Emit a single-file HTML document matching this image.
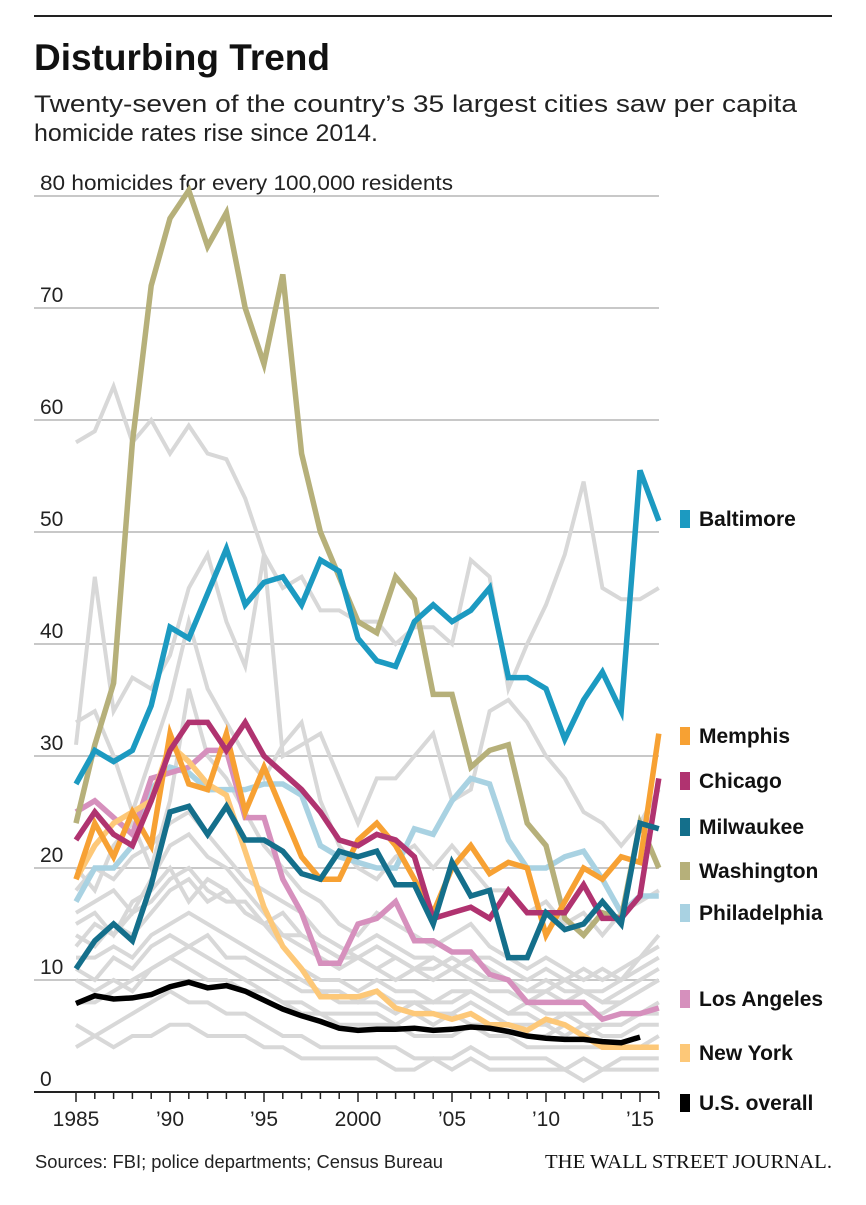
<!DOCTYPE html>
<html><head><meta charset="utf-8"><style>
body{margin:0;background:#fff;width:866px;height:1200px;overflow:hidden;font-family:"Liberation Sans",sans-serif}
</style></head><body>
<svg id="c" width="866" height="1200" xmlns="http://www.w3.org/2000/svg">
<line x1="34" y1="16" x2="832" y2="16" stroke="#222" stroke-width="2"/>
<text x="34" y="70" font-size="37" font-weight="bold" fill="#111" textLength="296" lengthAdjust="spacingAndGlyphs">Disturbing Trend</text>
<text x="34" y="112" font-size="24" fill="#222" textLength="763" lengthAdjust="spacingAndGlyphs">Twenty-seven of the country’s 35 largest cities saw per capita</text>
<text x="34" y="141" font-size="24" fill="#222" textLength="344" lengthAdjust="spacingAndGlyphs">homicide rates rise since 2014.</text>
<text x="35" y="1168" font-size="18" fill="#222" textLength="408" lengthAdjust="spacingAndGlyphs">Sources: FBI; police departments; Census Bureau</text>
<text x="832" y="1168" font-size="20" fill="#111" text-anchor="end" textLength="287" lengthAdjust="spacingAndGlyphs" font-family="Liberation Serif,serif">THE WALL STREET JOURNAL.</text>
<g id="grid"></g><g id="gray"></g><g id="main"></g><g id="axis"></g><g id="legend"></g>
</svg>
<script>
const years=[1985,1986,1987,1988,1989,1990,1991,1992,1993,1994,1995,1996,1997,1998,1999,2000,2001,2002,2003,2004,2005,2006,2007,2008,2009,2010,2011,2012,2013,2014,2015,2016];
const yTicks=[0,10,20,30,40,50,60,70];
const xTickLabels=["1985","’90","’95","2000","’05","’10","’15"];
const baltimore=[27.5,30.5,29.5,30.5,34.5,41.5,40.5,44.5,48.5,43.5,45.5,46,43.5,47.5,46.5,40.5,38.5,38,42,43.5,42,43,45,37,37,36,31.5,35,37.5,34,55.5,51];
const washington=[24,31,36.5,58,72,78,80.5,75.5,78.5,70,65,73,57,50,46,42,41,46,44,35.5,35.5,29,30.5,31,24,22,15.5,14,16,15.5,24,20];
const chicago=[22.5,25,23,22,26,30.5,33,33,30.5,33,30,28.5,27,25,22.5,22,23,22.5,21,15.5,16,16.5,15.5,18,16,16,16,18.5,15.5,15.5,17.5,28];
const memphis=[19,24,21,25,22,32,27.5,27,32,25,29,25,21,19,19,22.5,24,22,19,16,20,22,19.5,20.5,20,14,17,20,19,21,20.5,32];
const milwaukee=[11,13.5,15,13.5,18.5,25,25.5,23,25.5,22.5,22.5,21.5,19.5,19,21.5,21,21.5,18.5,18.5,15,20.5,17.5,18,12,12,16,14.5,15,17,15,24,23.5];
const philadelphia=[17,20,20,22,27,29,28.5,27,27,27,27.5,27.5,26.5,22,21,20.5,20,20,23.5,23,26,28,27.5,22.5,20,20,21,21.5,19,16,17.5,17.5];
const losAngeles=[25,26,24.5,23,28,28.5,29,30.5,30.5,24.5,24.5,19,16,11.5,11.5,15,15.5,17,13.5,13.5,12.5,12.5,10.5,10,8,8,8,8,6.5,7,7,7.5];
const newYork=[19,22,24,25,26,31,29.5,27.5,26.5,21.5,16.5,13,11,8.5,8.5,8.5,9,7.5,7,7,6.5,7,6,6,5.5,6.5,6,5,4,4,4,4];
const usOverall=[7.9,8.6,8.3,8.4,8.7,9.4,9.8,9.3,9.5,9,8.2,7.4,6.8,6.3,5.7,5.5,5.6,5.6,5.7,5.5,5.6,5.8,5.7,5.4,5,4.8,4.7,4.7,4.5,4.4,4.9];
const gray1=[58,59,63,58,60,57,59.5,57,56.5,53,48,45,46,43,43,42,42,40,41.5,41.5,40,47.5,46,36,40,43.5,48,54.5,45,44,44,45];
const gray2=[31,46,34,37,36,39,45,48,42,38,48,30,31,32,28,24,28,28,30,32,26,27,34,35,33,30,28,25,24,22,24,27];
const gray3=[33,34,30,25,30,35,42,36,33,30,28,31,33,26,22,20,19,21,22,20,22,20,18,18,16,17,15,16,14,16,17,18];
const gray4=[20,18,22,24,20,26,36,30,28,25,22,20,18,17,15,14,16,15,14,13,14,15,13,12,11,12,11,10,11,10,12,13];
const gray5=[16,17,18,16,19,22,23,21,20,18,16,14,13,12,11,12,11,10,11,10,11,10,9,9,8,9,8,9,8,8,9,10];
const gray6=[14,13,15,14,16,18,19,17,18,16,15,13,11,10,10,9,10,9,9,8,9,9,8,7,7,6,7,6,6,6,7,7];
const gray7=[12,12,13,12,14,15,16,15,14,13,12,11,10,9,8,8,8,7,8,7,7,8,7,6,6,6,5,6,5,5,6,6];
const gray8=[10,9,10,9,11,12,13,12,11,10,9,8,7,7,6,6,6,6,5,5,5,6,5,5,4,4,4,4,4,4,4,5];
const gray9=[6,5,6,7,8,9,8,8,7,7,6,5,5,4,4,4,4,4,3,3,3,4,3,3,3,3,2,3,2,3,3,3];
const gray10=[4,5,4,5,5,6,6,5,5,5,4,4,3,3,3,3,3,2,2,3,2,3,2,2,2,2,2,1,2,2,2,2];
const gray11=[18,20,19,21,22,24,25,23,21,19,18,17,16,14,13,12,13,12,11,12,11,12,11,10,9,10,9,9,8,9,10,11];
const gray12=[13,15,14,16,17,19,20,18,17,17,15,14,14,13,12,12,11,12,11,11,12,11,10,10,9,9,10,9,9,10,11,12];
const gray13=[8,8,9,10,11,12,11,10,10,9,9,8,8,7,7,7,7,6,7,6,7,6,6,6,5,5,6,5,6,6,7,8];
const gray14=[15,16,14,17,18,20,17,19,18,16,15,16,14,13,12,13,14,13,12,12,11,12,12,11,10,11,10,11,10,11,12,14];
const gray15=[11,10,12,11,13,14,13,14,12,12,11,10,9,9,9,8,9,8,8,8,8,9,8,7,8,7,7,7,7,8,9,10];
const grays=[gray1,gray2,gray3,gray4,gray5,gray6,gray7,gray8,gray9,gray10,gray11,gray12,gray13,gray14,gray15];

const NS="http://www.w3.org/2000/svg";
const X=y=>76+(y-1985)*18.8;
const Y=v=>1092-v*11.2;
function mk(tag,attrs,parent){const e=document.createElementNS(NS,tag);for(const k in attrs)e.setAttribute(k,attrs[k]);parent.appendChild(e);return e;}
const grid=document.getElementById('grid'),gray=document.getElementById('gray'),main=document.getElementById('main'),axis=document.getElementById('axis'),legend=document.getElementById('legend');
yTicks.forEach(v=>{
  if(v>0){const l=mk('line',{x1:34,x2:659,y1:Y(v),y2:Y(v),stroke:'#c8c8c8','stroke-width':2},grid);
  
  }
  const t=mk('text',{x:40,y:Y(v)-6,'font-size':21,fill:'#222'},grid);t.textContent=v;
  
  
});
const g80=mk('line',{x1:34,x2:659,y1:Y(80),y2:Y(80),stroke:'#c8c8c8','stroke-width':2},grid);


const t80=mk('text',{x:40,y:Y(80)-6,'font-size':21,fill:'#222',textLength:413,lengthAdjust:'spacingAndGlyphs'},grid);t80.textContent='80 homicides for every 100,000 residents';


function line(arr,color,w,parent,name){
  const d=arr.map((v,i)=>(i?'L':'M')+X(years[i]).toFixed(1)+' '+Y(v).toFixed(1)).join(' ');
  const p=mk('path',{d:d,fill:'none',stroke:color,'stroke-width':w,'stroke-linejoin':'miter'},parent);
  
  
}
grays.forEach((g,i)=>line(g,'#d8d8d8',4,gray,'other-city-line-'+(i+1)));
const series=[
 [philadelphia,'#a9d2e2','line-philadelphia'],[losAngeles,'#d690bd','line-los-angeles'],[newYork,'#fdc878','line-new-york'],
 [washington,'#b6b07a','line-washington'],[memphis,'#f7a133','line-memphis'],[chicago,'#b03370','line-chicago'],
 [milwaukee,'#146f8b','line-milwaukee'],[baltimore,'#1c9ac1','line-baltimore'],[usOverall,'#000','line-us-overall']];
series.forEach(s=>line(s[0],s[1],5.5,main,s[2]));
const ax=mk('line',{x1:34,x2:659,y1:1092,y2:1092,stroke:'#222','stroke-width':2},axis);


years.forEach(y=>{const t=mk('line',{x1:X(y),x2:X(y),y1:1092,y2:(y%5==0?1102:1099),stroke:'#222','stroke-width':1.5},axis);
 
 });
xTickLabels.forEach((lab,i)=>{const t=mk('text',{x:X(1985+5*i),y:1126,'font-size':21,fill:'#222','text-anchor':'middle'},axis);t.textContent=lab;
 
 });
const leg=[['Baltimore','#1c9ac1',519],['Memphis','#f7a133',736],['Chicago','#b03370',781],['Milwaukee','#146f8b',827],['Washington','#b6b07a',871],['Philadelphia','#a9d2e2',913],['Los Angeles','#d690bd',999],['New York','#fdc878',1053],['U.S. overall','#000',1103]];
leg.forEach(l=>{const g=mk('g',{},legend);
 
 
 mk('rect',{x:680,y:l[2]-9,width:10,height:18,fill:l[1]},g);
 const t=mk('text',{x:699,y:l[2]+7,'font-size':21,'font-weight':'bold',fill:'#111'},g);t.textContent=l[0];});
</script>
</body></html>
